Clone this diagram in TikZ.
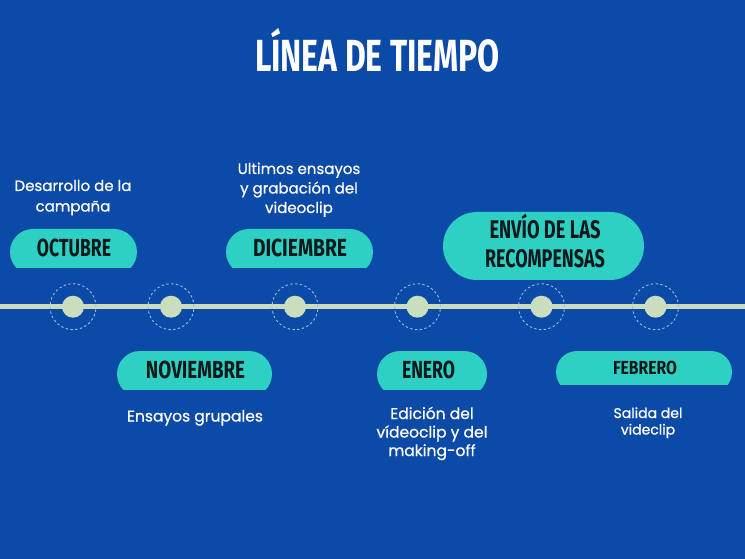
\documentclass[tikz,border=0pt]{standalone}
\usepackage{fontspec}
\usepackage{graphicx}
\setmainfont{Poppins}[FakeBold=0.7]
\newfontfamily\bebas{Fira Sans}
\definecolor{bgblue}{RGB}{12,74,168}
\definecolor{pillteal}{RGB}{46,208,196}
\definecolor{dotsage}{RGB}{202,222,190}
\definecolor{ringblue}{RGB}{150,190,240}
\definecolor{inkdark}{RGB}{12,24,26}
\newcommand\pill[5]{\begin{scope}\clip (#1,#2) rectangle (#3,#4);\fill[pillteal,rounded corners=#5pt] (#1,#2) rectangle (#3,{#2+2*#5});\end{scope}}
\newcommand\lab[3]{\resizebox{#1pt}{\height}{\fontsize{#2}{#2}\selectfont\bebas\bfseries #3}}
\newcommand\desc[3]{\parbox[t]{140pt}{\centering\fontsize{#1}{#2}\selectfont #3}}
\tikzset{
  txt/.style={inner sep=0pt,anchor=base,text=white},
  labtxt/.style={inner sep=0pt,anchor=base,text=inkdark},
  dot/.style={circle,fill=dotsage,minimum size=22pt,inner sep=0pt},
  ring/.style={circle,draw=ringblue,line width=0.9pt,dash pattern=on 2.4pt off 2.4pt,minimum size=46pt,inner sep=0pt},
}
\begin{document}
\begin{tikzpicture}[x=1pt,y=-1pt]
\useasboundingbox (0,0) rectangle (745,559);
\fill[bgblue] (0,0) rectangle (745,559);
% title
\node[txt] (title) at (377.5,72) {\resizebox{245pt}{\height}{\fontsize{45}{45}\selectfont\bebas\bfseries LÍNEA DE TIEMPO}};
% timeline
\coordinate (lw) at (0,306.7);
\coordinate (le) at (745,306.7);
\draw[dotsage,line width=4.5pt] (lw) -- (le);
\foreach \x/\n in {73/1,171/2,295/3,417.5/4,541.5/5,655.5/6}{
  \node[ring] (r\n) at (\x,306.7) {};
  \node[dot] (d\n) at (\x,306.7) {};
}
% pills
\pill{10}{229}{137}{267}{23}
\pill{226}{229}{373}{267}{23}
\pill{117}{351}{272}{389}{23}
\pill{377}{351}{487}{389}{23}
\pill{556}{351}{732}{384}{21}
\pill{443}{212}{644}{279}{34}
% pill labels
\node[labtxt] (oct) at (74,257) {\lab{74}{24.7}{OCTUBRE}};
\node[labtxt] (dic) at (300,257) {\lab{94}{24.7}{DICIEMBRE}};
\node[labtxt] (nov) at (195.5,378) {\lab{99}{24.7}{NOVIEMBRE}};
\node[labtxt] (ene) at (428.5,378) {\lab{53}{24.7}{ENERO}};
\node[labtxt] (feb) at (645,374) {\lab{64}{18.9}{FEBRERO}};
\node[labtxt] (env) at (545,239) {\parbox[t]{200pt}{\centering\fontsize{24.7}{29}\selectfont\lab{111}{25.5}{ENVÍO DE LAS}\\\lab{120}{25.5}{RECOMPENSAS}}};
% descriptions
\node[txt] (t1) at (73,191) {\desc{15}{20.5}{Desarrollo de la\\campaña}};
\node[txt] (t2) at (299,174) {\desc{15}{19.5}{Ultimos ensayos\\y grabación del\\videoclip}};
\node[txt] (t3) at (195,421.5) {\desc{15.5}{19}{Ensayos grupales}};
\node[txt] (t4) at (432,419) {\desc{15.5}{18.5}{Edición del\\vídeoclip y del\\making-off}};
\node[txt] (t5) at (648,418) {\desc{14}{16.5}{Salida del\\videclip}};
\end{tikzpicture}
\end{document}
